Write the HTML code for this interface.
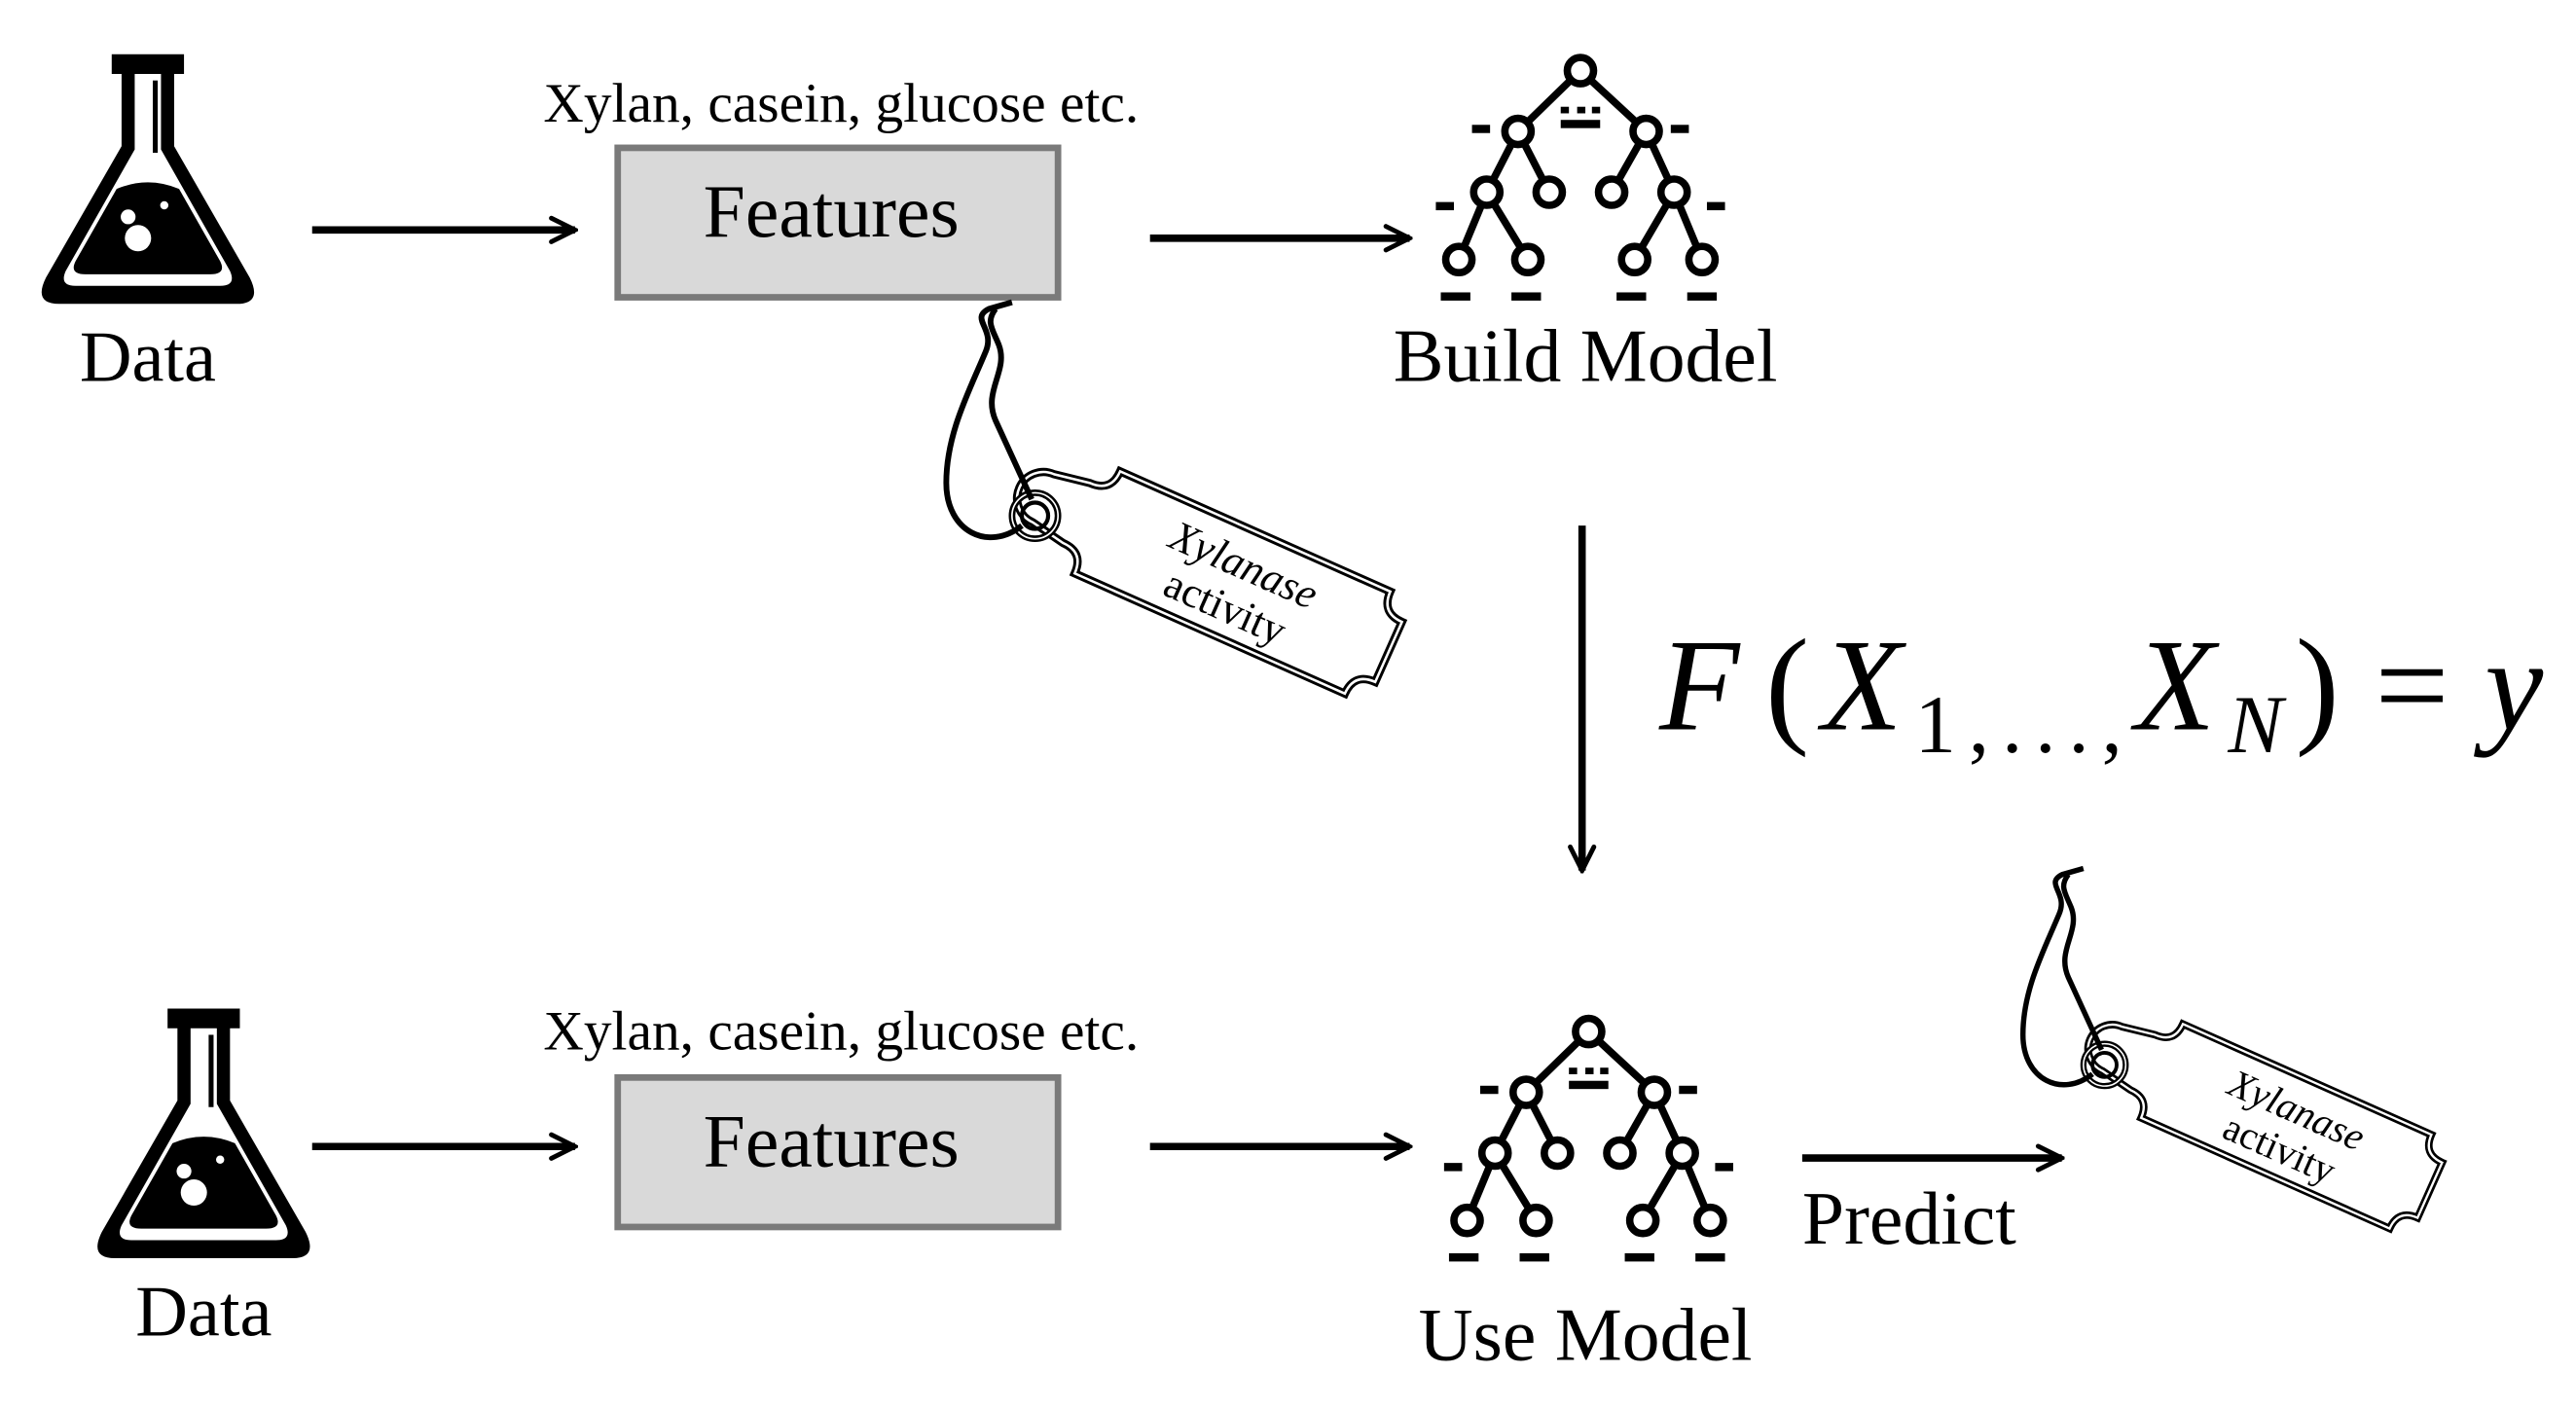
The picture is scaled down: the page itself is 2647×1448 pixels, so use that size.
<!DOCTYPE html>
<html><head><meta charset="utf-8"><style>
html,body{margin:0;padding:0;background:#fff;}
svg{display:block;}
</style></head><body>
<svg width="2647" height="1448" viewBox="0 0 1568 857.8" preserveAspectRatio="none" xmlns="http://www.w3.org/2000/svg">
<defs>
<g id="flask">
  <path d="M-22,0 h44 v12 h-6 v44 l46,80 q8,16 -8,16 h-108 q-16,0 -8,-16 l46,-80 v-44 h-6 z" fill="#000"/>
  <path d="M-8,12 h16 v46 l42,74 q4,9 -6,9 h-88 q-10,0 -6,-9 l42,-74 z" fill="#fff"/>
  <path d="M-19,82 q19,-8 38,0 l25,44 q4,8 -6,8 h-76 q-10,0 -6,-8 z" fill="#000"/>
  <rect x="3" y="16" width="3" height="44" fill="#000"/>
  <circle cx="-6" cy="112" r="8" fill="#fff"/>
  <circle cx="-12" cy="99" r="4.5" fill="#fff"/>
  <circle cx="10" cy="92" r="2.5" fill="#fff"/>
</g>
<marker id="ah" viewBox="0 0 10 10" refX="9" refY="5" markerWidth="4" markerHeight="4" orient="auto-start-reverse" markerUnits="strokeWidth">
  <path d="M1,1 L9,5 L1,9" fill="none" stroke="#000" stroke-width="1.6" stroke-linecap="round"/>
</marker>
<g id="tree" stroke="#000" stroke-width="4.5" fill="#fff">
  <line x1="0" y1="0" x2="-38" y2="37"/><line x1="0" y1="0" x2="40" y2="37"/>
  <line x1="-38" y1="37" x2="-57" y2="74"/><line x1="-38" y1="37" x2="-19" y2="74"/>
  <line x1="40" y1="37" x2="19" y2="74"/><line x1="40" y1="37" x2="57" y2="74"/>
  <line x1="-57" y1="74" x2="-74" y2="115"/><line x1="-57" y1="74" x2="-32" y2="115"/>
  <line x1="57" y1="74" x2="33" y2="115"/><line x1="57" y1="74" x2="74" y2="115"/>
  <circle cx="0" cy="0" r="8"/>
  <circle cx="-38" cy="37" r="8"/><circle cx="40" cy="37" r="8"/>
  <circle cx="-57" cy="74" r="8"/><circle cx="-19" cy="74" r="8"/>
  <circle cx="19" cy="74" r="8"/><circle cx="57" cy="74" r="8"/>
  <circle cx="-74" cy="115" r="8"/><circle cx="-32" cy="115" r="8"/>
  <circle cx="33" cy="115" r="8"/><circle cx="74" cy="115" r="8"/>
  <g stroke="none" fill="#000">
    <rect x="-66" y="33" width="11" height="5"/><rect x="55" y="33" width="11" height="5"/>
    <rect x="-12" y="22" width="5" height="4"/><rect x="-2" y="22" width="5" height="4"/><rect x="7" y="22" width="5" height="4"/>
    <rect x="-12" y="30" width="24" height="5"/>
    <rect x="-88" y="80" width="11" height="5"/><rect x="77" y="80" width="11" height="5"/>
    <rect x="-85" y="135" width="18" height="5"/><rect x="-42" y="135" width="18" height="5"/>
    <rect x="22" y="135" width="18" height="5"/><rect x="65" y="135" width="18" height="5"/>
  </g>
</g>
<g id="tag" fill="none" stroke="#000">
  <g transform="rotate(24)">
    <path d="M0,-34 h180 q0,14 14,14 v40 q-14,0 -14,14 h-180 q0,-14 -14,-14 l-22,-4 a16,16 0 0 1 0,-32 l22,-4 q14,0 14,-14 z" stroke-width="5"/>
    <path d="M0,-34 h180 q0,14 14,14 v40 q-14,0 -14,14 h-180 q0,-14 -14,-14 l-22,-4 a16,16 0 0 1 0,-32 l22,-4 q14,0 14,-14 z" stroke="#fff" stroke-width="1.5"/>
    <text x="92" y="-4" font-family="Liberation Serif, serif" font-size="26" fill="#000" stroke="none" text-anchor="middle" font-style="italic">Xylanase</text>
    <text x="92" y="24" font-family="Liberation Serif, serif" font-size="26" fill="#000" stroke="none" text-anchor="middle">activity</text>
  </g>
  <circle cx="-38" cy="-4" r="14" stroke-width="4"/><circle cx="-38" cy="-4" r="14" stroke="#fff" stroke-width="1"/>
  <circle cx="-38" cy="-4" r="8" stroke-width="2.5"/>
  <path d="M-40,-14 L-62,-62 c-8,-18 8,-30 2,-46 c-4,-10 -8,-14 -2,-22" stroke-width="3.5"/>
  <path d="M-46,2 c-20,16 -46,4 -46,-26 c0,-30 14,-56 24,-80 c6,-14 -10,-20 2,-26 l14,-4" stroke-width="3.5"/>
</g>
</defs>

<!-- Top row -->
<use href="#flask" x="90" y="33"/>
<text x="90" y="232" font-family="Liberation Serif, serif" font-size="44" text-anchor="middle">Data</text>
<line x1="190" y1="140" x2="350" y2="140" stroke="#000" stroke-width="4.5" marker-end="url(#ah)"/>
<text x="512" y="74" font-family="Liberation Serif, serif" font-size="34" text-anchor="middle">Xylan, casein, glucose etc.</text>
<rect x="376" y="90" width="268" height="91" fill="#d9d9d9" stroke="#7a7a7a" stroke-width="4"/>
<text x="506" y="144" font-family="Liberation Serif, serif" font-size="46" text-anchor="middle">Features</text>
<line x1="700" y1="145" x2="858" y2="145" stroke="#000" stroke-width="4.5" marker-end="url(#ah)"/>
<use href="#tree" x="962" y="43"/>
<text x="965" y="232" font-family="Liberation Serif, serif" font-size="46" text-anchor="middle">Build Model</text>
<use href="#tag" x="668" y="318"/>

<line x1="963" y1="320" x2="963" y2="530" stroke="#000" stroke-width="4.5" marker-end="url(#ah)"/>
<text x="1010" y="444" font-family="Liberation Serif, serif" font-size="80" font-style="italic" textLength="538" lengthAdjust="spacing">F<tspan font-style="normal" dx="8">(</tspan>X<tspan font-style="normal" font-size="50" dy="14">1,...,</tspan><tspan dy="-14">X</tspan><tspan font-size="50" dy="14">N</tspan><tspan font-style="normal" dy="-14">)</tspan><tspan font-style="normal" dx="14">=</tspan><tspan dx="14">y</tspan></text>

<!-- Bottom row -->
<use href="#flask" x="124" y="614"/>
<text x="124" y="813" font-family="Liberation Serif, serif" font-size="44" text-anchor="middle">Data</text>
<line x1="190" y1="698" x2="350" y2="698" stroke="#000" stroke-width="4.5" marker-end="url(#ah)"/>
<text x="512" y="639" font-family="Liberation Serif, serif" font-size="34" text-anchor="middle">Xylan, casein, glucose etc.</text>
<rect x="376" y="656" width="268" height="91" fill="#d9d9d9" stroke="#7a7a7a" stroke-width="4"/>
<text x="506" y="710" font-family="Liberation Serif, serif" font-size="46" text-anchor="middle">Features</text>
<line x1="700" y1="698" x2="858" y2="698" stroke="#000" stroke-width="4.5" marker-end="url(#ah)"/>
<use href="#tree" x="967" y="628"/>
<text x="965" y="828" font-family="Liberation Serif, serif" font-size="46" text-anchor="middle">Use Model</text>
<line x1="1097" y1="705" x2="1255" y2="705" stroke="#000" stroke-width="4.5" marker-end="url(#ah)"/>
<text x="1097" y="757" font-family="Liberation Serif, serif" font-size="46">Predict</text>
<g transform="translate(1316 652) scale(0.92)"><use href="#tag" x="0" y="0"/></g>
</svg>
</body></html>
